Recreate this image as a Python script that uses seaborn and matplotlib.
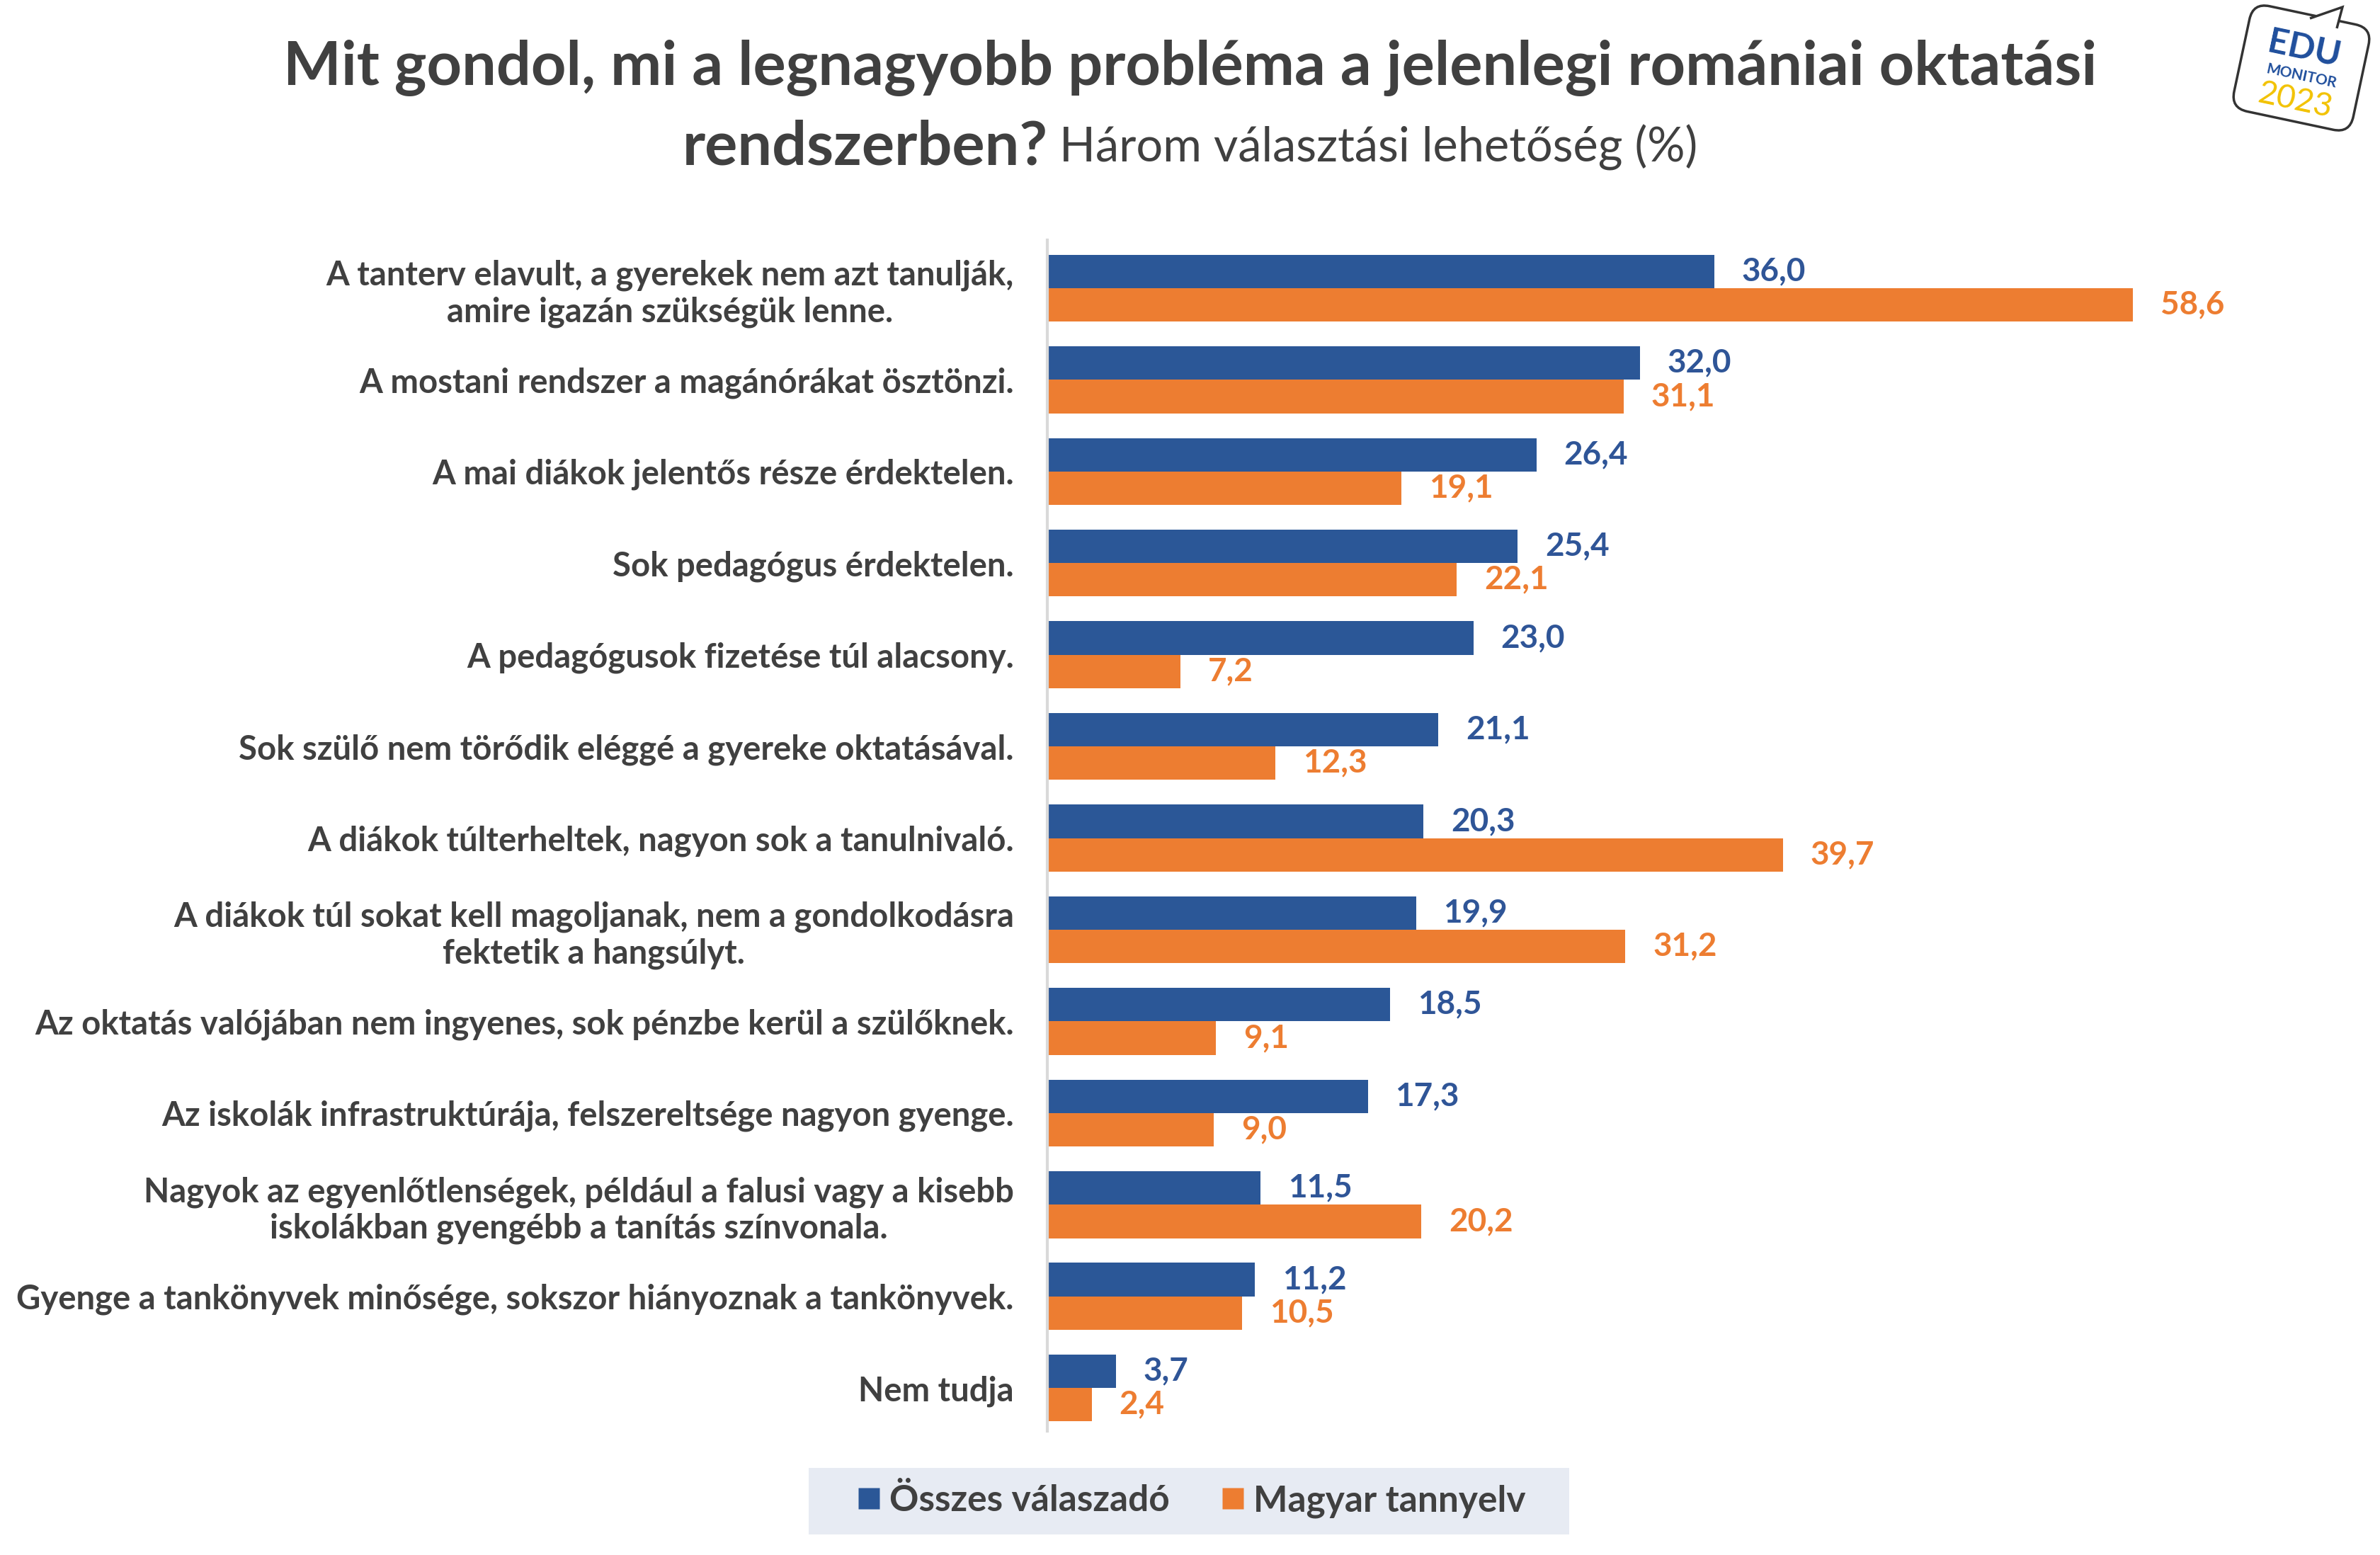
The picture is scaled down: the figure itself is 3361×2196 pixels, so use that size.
import matplotlib
matplotlib.use("Agg")
import matplotlib.pyplot as plt
import seaborn as sns
import pandas as pd
from matplotlib.patches import FancyBboxPatch, Polygon, Rectangle
from matplotlib.transforms import Affine2D

# ---------------- data ----------------
categories = [
    "A tanterv elavult, a gyerekek nem azt tanulják,\namire igazán szükségük lenne.",
    "A mostani rendszer a magánórákat ösztönzi.",
    "A mai diákok jelentős része érdektelen.",
    "Sok pedagógus érdektelen.",
    "A pedagógusok fizetése túl alacsony.",
    "Sok szülő nem törődik eléggé a gyereke oktatásával.",
    "A diákok túlterheltek, nagyon sok a tanulnivaló.",
    "A diákok túl sokat kell magoljanak, nem a gondolkodásra\nfektetik a hangsúlyt.",
    "Az oktatás valójában nem ingyenes, sok pénzbe kerül a szülőknek.",
    "Az iskolák infrastruktúrája, felszereltsége nagyon gyenge.",
    "Nagyok az egyenlőtlenségek, például a falusi vagy a kisebb\niskolákban gyengébb a tanítás színvonala.",
    "Gyenge a tankönyvek minősége, sokszor hiányoznak a tankönyvek.",
    "Nem tudja",
]
osszes = [36.0, 32.0, 26.4, 25.4, 23.0, 21.1, 20.3, 19.9, 18.5, 17.3, 11.5, 11.2, 3.7]
magyar = [58.6, 31.1, 19.1, 22.1, 7.2, 12.3, 39.7, 31.2, 9.1, 9.0, 20.2, 10.5, 2.4]
series = ["Összes válaszadó", "Magyar tannyelv"]
colors = ["#2B5797", "#ED7D31"]
label_colors = ["#2F5597", "#ED7D31"]

title_1 = "Mit gondol, mi a legnagyobb probléma a jelenlegi romániai oktatási"
title_2_bold = "rendszerben?"
title_2_reg = " Három választási lehetőség (%)"

df = pd.DataFrame({
    "kategoria": categories * 2,
    "ertek": osszes + magyar,
    "csoport": [series[0]] * len(categories) + [series[1]] * len(categories),
})

# ---------------- style ----------------
sns.set_theme(style="white")
plt.rcParams["font.family"] = ["Lato", "DejaVu Sans"]
TXT = "#404040"

W, H = 3361, 2196
fig = plt.figure(figsize=(W / 100, H / 100), dpi=100)
fig.patch.set_facecolor("white")

ax_left, ax_right = 1479 / W, (1479 + 65 * 26.16) / W
ax_bottom, ax_top = 1 - 2021 / H, 1 - 339 / H
ax = fig.add_axes([ax_left, ax_bottom, ax_right - ax_left, ax_top - ax_bottom])

sns.barplot(data=df, y="kategoria", x="ertek", hue="csoport", order=categories,
            hue_order=series, palette=colors, orient="h", width=0.73, gap=0,
            saturation=1, ax=ax, legend=False, edgecolor="none", linewidth=0)

for cont, col in zip(ax.containers, label_colors):
    vals = [b.get_width() for b in cont]
    ax.bar_label(cont, labels=[f"{v:.1f}".replace(".", ",") for v in vals],
                 padding=28, color=col, fontsize=33, fontweight="bold")

ax.set_xlim(0, 65)
ax.set_ylim(12.47, -0.525)
ax.set_xlabel("")
ax.set_ylabel("")
ax.set_xticks([])
for s in ["top", "right", "bottom"]:
    ax.spines[s].set_visible(False)
ax.spines["left"].set_color("#D9D9D9")
ax.spines["left"].set_linewidth(3)
ax.tick_params(axis="y", length=0, pad=34)
for lab in ax.get_yticklabels():
    lab.set_fontsize(34)
    lab.set_fontweight("bold")
    lab.set_color(TXT)
    lab.set_multialignment("center")

# ---------------- title ----------------
fig.text(0.5, 1 - 96 / H, title_1, ha="center", va="center", fontsize=62.3,
         fontweight="bold", color=TXT)
renderer = fig.canvas.get_renderer()
tb = fig.text(0, 1 - 208 / H, title_2_bold, ha="left", va="center", fontsize=62.3,
              fontweight="bold", color=TXT)
tr = fig.text(0, 1 - 208 / H, title_2_reg, ha="left", va="center", fontsize=48,
              color=TXT)
wb = tb.get_window_extent(renderer).width
wr = tr.get_window_extent(renderer).width
x0 = (W - wb - wr) / 2
tb.set_x(x0 / W)
tr.set_x((x0 + wb) / W)

# ---------------- legend ----------------
fig.patches.append(Rectangle((1142 / W, 1 - 2167 / H), (2216 - 1142) / W, 94 / H,
                             transform=fig.transFigure, facecolor="#E7EBF3",
                             edgecolor="none", zorder=0))
handles = [plt.Line2D([], [], marker="s", linestyle="none", markersize=21,
                      markerfacecolor=c, markeredgecolor="none") for c in colors]
leg = fig.legend(handles, series, loc="center", bbox_to_anchor=(1683 / W, 1 - 2120 / H),
                 ncol=2, frameon=False, fontsize=37, handletextpad=0.25,
                 columnspacing=1.45, handlelength=0.6)
for t in leg.get_texts():
    t.set_fontweight("bold")
    t.set_color(TXT)

# ---------------- logo ----------------
px = Affine2D().scale(1 / W, 1 / H) + fig.transFigure
cx, cy = 3250, H - 96
rot = Affine2D().rotate_deg_around(cx, cy, -12)
bubble = FancyBboxPatch((cx - 86, cy - 76), 172, 152,
                        boxstyle="round,pad=0,rounding_size=24",
                        facecolor="white", edgecolor="#333333", linewidth=2.5,
                        transform=rot + px)
fig.patches.append(bubble)
tail = Polygon([(3262, H - 26), (3308, H - 10), (3300, H - 40)], closed=False,
               facecolor="white", edgecolor="#333333", linewidth=2.5, transform=px)
fig.patches.append(tail)
fig.text(3254 / W, 1 - 70 / H, "EDU", ha="center", va="center", fontsize=36,
         fontweight="bold", color="#1F4E9C", rotation=-12)
fig.text(3250 / W, 1 - 108 / H, "MONITOR", ha="center", va="center", fontsize=15,
         fontweight="bold", color="#1F4E9C", rotation=-12)
fig.text(3242 / W, 1 - 142 / H, "2023", ha="center", va="center", fontsize=33,
         color="#F2C200", rotation=-12)

fig.savefig("out.png", dpi=100, facecolor="white")
